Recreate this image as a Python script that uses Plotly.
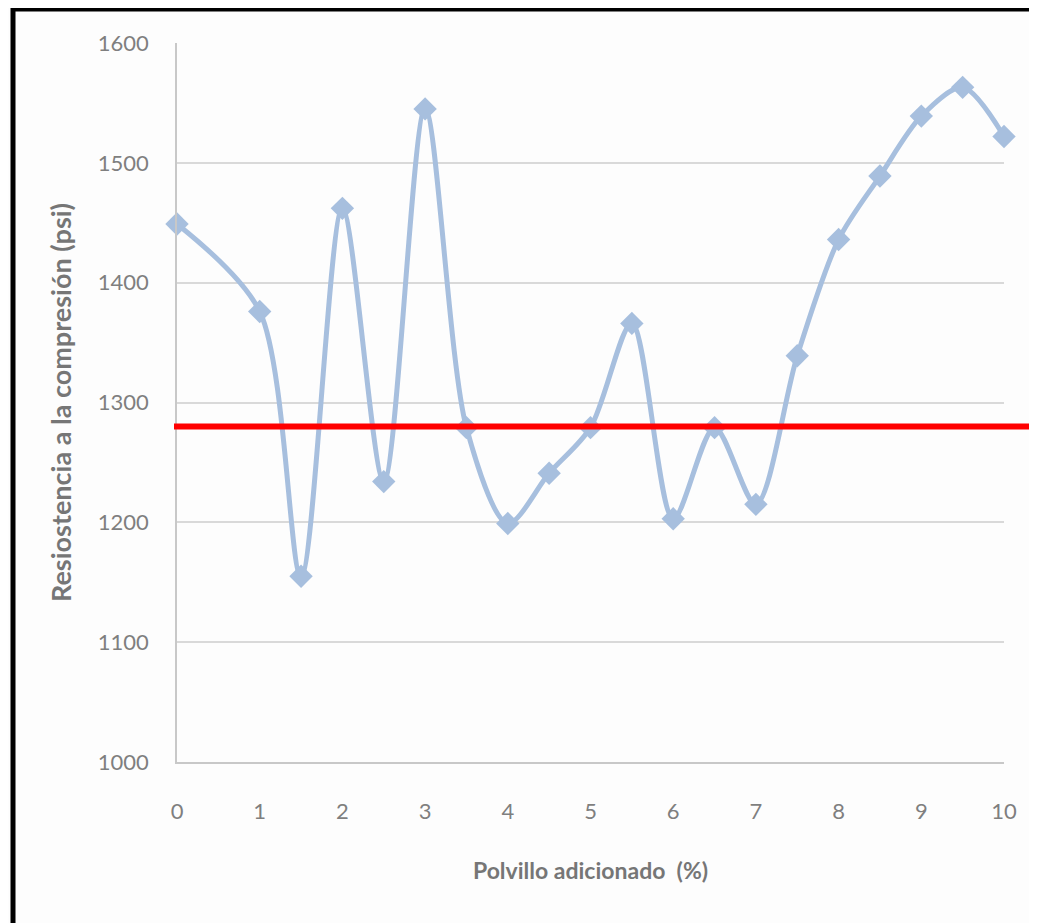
import plotly.graph_objects as go

# Data
polvillo = [0, 1, 1.5, 2, 2.5, 3, 3.5, 4, 4.5, 5, 5.5, 6, 6.5, 7, 7.5, 8, 8.5, 9, 9.5, 10]
resistencia = [1449, 1376, 1155, 1462, 1234, 1545, 1279, 1199, 1241, 1279,
               1366, 1203, 1279, 1215, 1339, 1436, 1489, 1539, 1563, 1522]
referencia = 1280
x_ticks = [0, 1, 2, 3, 4, 5, 6, 7, 8, 9, 10]
y_ticks = [1000, 1100, 1200, 1300, 1400, 1500, 1600]

OFF = 8  # browser default body margin
W, H = 1037 - OFF, 923 - OFF
L, T = 177 - OFF, 43 - OFF
R = W - (1004 - OFF)
B = H - (762 - OFF)
PW, PH = W - L - R, H - T - B


def px(xw):
    return (xw - OFF - L) / PW


def py(yw):
    return (H - B - (yw - OFF)) / PH


fig = go.Figure()
fig.add_trace(go.Scatter(
    x=polvillo, y=resistencia, mode="lines+markers",
    line=dict(color="#A7BFDE", width=5, shape="spline", smoothing=0.85),
    marker=dict(symbol="diamond", size=18, color="#A7BFDE"),
    cliponaxis=False, showlegend=False,
))

grey = "#7F7F7F"
fig.update_layout(
    width=W, height=H,
    margin=dict(l=L, r=R, t=T, b=B),
    paper_bgcolor="#FDFDFD", plot_bgcolor="#FDFDFD",
    font=dict(family="Lato", color=grey),
    xaxis=dict(range=[0, 10], tickvals=x_ticks, showgrid=False,
               showline=True, linecolor="#C8C8C8", linewidth=1.5,
               ticks="outside", ticklen=29, tickcolor="rgba(0,0,0,0)",
               tickfont=dict(size=22, color=grey), zeroline=False,
               title=dict(text="<b>Polvillo adicionado  (%)</b>",
                          font=dict(size=23, color="#767676"), standoff=40)),
    yaxis=dict(range=[1000, 1600], tickvals=y_ticks, showgrid=True,
               gridcolor="#D9D9D9", gridwidth=1.5,
               showline=True, linecolor="#C8C8C8", linewidth=1.5,
               ticks="outside", ticklen=22, tickcolor="rgba(0,0,0,0)",
               tickfont=dict(size=22, color=grey), zeroline=False,
               title=dict(text="<b>Resiostencia a la compresión (psi)</b>",
                          font=dict(size=27, color="#767676"), standoff=18)),
)

# Reference line (extends past plot area)
fig.add_shape(type="line", xref="paper", yref="y",
              x0=px(174), x1=px(1030), y0=referencia, y1=referencia,
              line=dict(color="#FF0000", width=6), layer="above")

# Black frame (left and top edges)
fig.add_shape(type="line", xref="paper", yref="paper",
              x0=px(13), x1=px(13), y0=py(5), y1=py(940),
              line=dict(color="black", width=5))
fig.add_shape(type="line", xref="paper", yref="paper",
              x0=px(11), x1=px(1045), y0=py(9), y1=py(9),
              line=dict(color="black", width=5))

fig.write_html("out.html")
